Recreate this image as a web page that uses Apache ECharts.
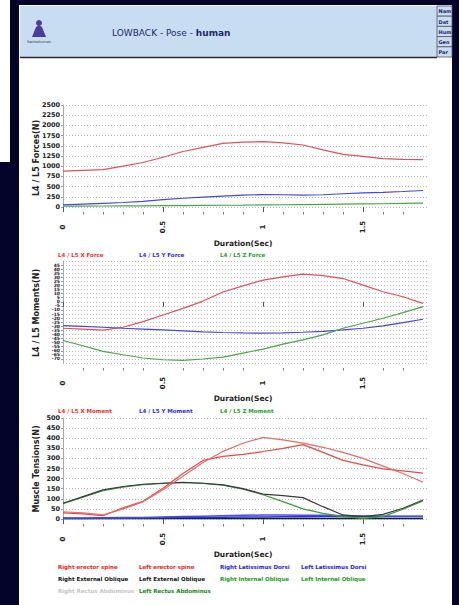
<!DOCTYPE html>
<html>
<head>
<meta charset="utf-8">
<script src="https://cdn.jsdelivr.net/npm/echarts@6/dist/echarts.min.js"></script>
<style>html,body{margin:0;padding:0;background:#04042a;}#c{width:459px;height:605px;}</style>
</head>
<body>
<div id="c"></div>
<script>
// ---- data ----
const time = [0, 0.1, 0.2, 0.3, 0.4, 0.5, 0.6, 0.7, 0.8, 0.9, 1.0, 1.1, 1.2, 1.3, 1.4, 1.5, 1.6, 1.7, 1.8];
const majorTicks = [0, 0.5, 1, 1.5];
const minorTicks = [0.1, 0.2, 0.3, 0.4, 0.6, 0.7, 0.8, 0.9, 1.1, 1.2, 1.3, 1.4, 1.6, 1.7];

const forceX = [880, 900, 915, 1000, 1090, 1220, 1360, 1460, 1560, 1590, 1600, 1570, 1520, 1400, 1290, 1240, 1185, 1165, 1160];
const forceY = [50, 70, 90, 110, 140, 180, 215, 240, 265, 290, 305, 300, 290, 300, 325, 345, 360, 380, 405];
const forceZ = [20, 22, 25, 28, 30, 33, 36, 40, 43, 46, 50, 55, 60, 65, 70, 75, 80, 88, 95];

const momentX = [-32.4, -33.6, -34.8, -31.2, -24.3, -16.2, -8.0, 0.9, 12.0, 19.5, 26.5, 30.5, 33.8, 32.1, 28.5, 20.4, 12.3, 6.2, -1.9];
const momentY = [-29.1, -30.0, -31.2, -32.4, -33.4, -34.4, -35.6, -36.8, -37.6, -38.1, -38.5, -38.0, -37.3, -36.2, -34.4, -32.4, -29.5, -25.5, -21.4];
const momentZ = [-47.4, -53.9, -60.8, -64.9, -68.9, -71.0, -71.8, -70.1, -67.7, -62.8, -58.0, -51.9, -46.6, -40.5, -32.4, -26.3, -20.2, -13.3, -6.0];

const rightErector = [36, 30, 20, 50, 85, 145, 212, 280, 335, 375, 404, 392, 376, 355, 330, 300, 262, 225, 182];
const leftErector = [30, 25, 17, 55, 88, 152, 225, 290, 310, 320, 334, 350, 368, 330, 290, 268, 248, 238, 227];
const rightLatDorsi = [5, 5, 6, 7, 8, 10, 12, 14, 16, 18, 20, 20, 19, 18, 16, 15, 14, 14, 13];
const leftLatDorsi = [3, 3, 4, 4, 5, 6, 7, 8, 9, 10, 10, 11, 11, 12, 12, 12, 12, 12, 12];
const rightExtOblique = [78, 111, 144, 161, 172, 177, 182, 177, 169, 150, 123, 116, 106, 61, 20, 12, 23, 53, 94];
const leftExtOblique = [3, 3, 3, 3, 3, 3, 3, 3, 3, 3, 3, 3, 3, 3, 3, 3, 3, 3, 3];
const rightIntOblique = [76, 108, 140, 158, 170, 176, 180, 176, 168, 148, 120, 86, 50, 28, 12, 3, 12, 48, 89];
const leftIntOblique = [2, 2, 2, 2, 2, 2, 2, 2, 2, 2, 2, 2, 2, 2, 2, 2, 2, 2, 2];
const rightRectus = [0, 0, 0, 0, 0, 0, 0, 0, 0, 0, 0, 0, 0, 0, 0, 0, 0, 0, 0];
const leftRectus = [1, 1, 1, 1, 1, 1, 1, 1, 1, 1, 1, 1, 1, 1, 1, 1, 1, 1, 1];

const forceTicks = { min: 0, max: 2500, interval: 250 };
const momentTicks = { min: -75, max: 50, interval: 5 };
const tensionTicks = { min: 0, max: 500, interval: 50 };

const forceLegend = ['L4 / L5 X Force', 'L4 / L5 Y Force', 'L4 / L5 Z Force'];
const momentLegend = ['L4 / L5 X Moment', 'L4 / L5 Y Moment', 'L4 / L5 Z Moment'];
const muscleNames = ['Right erector spine', 'Left erector spine', 'Right Latissimus Dorsi', 'Left Latissimus Dorsi',
  'Right External Oblique', 'Left External Oblique', 'Right Internal Oblique', 'Left Internal Oblique',
  'Right Rectus Abdominus', 'Left Rectus Abdominus'];
const boxLabels = ['Nam', 'Dat', 'Hum', 'Gen', 'Par'];

// ---- build ----
const FONT = 'DejaVu Sans';
const RED = '#e2505c', BLUE = '#4747d6', GREEN = '#4aa64a';
const gridTops = [105, 261, 418];
const gridHeights = [102, 102, 101];

const grids = gridTops.map((t, i) => ({ left: 63, top: t, width: 365, height: gridHeights[i], outerBoundsMode: 'none', containLabel: false }));

const xAxes = [];
[0, 1, 2].forEach(i => {
  xAxes.push({
    type: 'value', gridIndex: i, min: 0, max: 1.825, position: 'bottom', offset: 4,
    axisLine: { show: true, lineStyle: { color: 'rgba(0,0,0,0)' } },
    axisTick: { show: true, customValues: majorTicks, length: 5, lineStyle: { color: '#555', width: 1 } },
    axisLabel: { customValues: majorTicks, rotate: 90, margin: 16, align: 'center', verticalAlign: 'middle',
      fontSize: 7, fontWeight: 'bold', color: '#222', fontFamily: FONT, formatter: v => String(v) },
    splitLine: { show: false }
  });
  xAxes.push({
    type: 'value', gridIndex: i, min: 0, max: 1.825, position: 'bottom', offset: 5,
    axisLine: { show: true, lineStyle: { color: 'rgba(0,0,0,0)' } },
    axisTick: { show: true, customValues: minorTicks, length: 2.5, lineStyle: { color: '#777', width: 1 } },
    axisLabel: { show: false },
    splitLine: { show: false }
  });
});

function yAx(i, t, fs) {
  return {
    type: 'value', gridIndex: i, min: t.min, max: t.max, interval: t.interval,
    axisLine: { show: true, lineStyle: { color: '#aaa', width: 1 } },
    axisTick: { show: true, length: 2, lineStyle: { color: '#999' } },
    axisLabel: { fontSize: fs, color: '#222', margin: 3, fontFamily: FONT, fontWeight: 'bold', formatter: v => String(v) },
    splitLine: { show: true, lineStyle: { color: '#b8b8b8', type: [1, 2], width: 1 } }
  };
}
const yAxes = [yAx(0, forceTicks, 6.5), yAx(1, momentTicks, 4.5), yAx(2, tensionTicks, 6.5)];

function ser(name, arr, gi, color, w) {
  return {
    name, type: 'line', xAxisIndex: gi * 2, yAxisIndex: gi, showSymbol: false, symbol: 'none',
    data: time.map((t, k) => [t, arr[k]]),
    lineStyle: { color, width: w || 1.2 }, itemStyle: { color }, silent: true
  };
}

const series = [
  ser(forceLegend[0], forceX, 0, RED), ser(forceLegend[1], forceY, 0, BLUE), ser(forceLegend[2], forceZ, 0, GREEN),
  ser(momentLegend[0], momentX, 1, RED), ser(momentLegend[1], momentY, 1, BLUE), ser(momentLegend[2], momentZ, 1, GREEN),
  ser(muscleNames[8], rightRectus, 2, '#c8c8c8'),
  ser(muscleNames[9], leftRectus, 2, '#1f7a1f'),
  ser(muscleNames[7], leftIntOblique, 2, '#33a033'),
  ser(muscleNames[5], leftExtOblique, 2, '#1a1a40'),
  ser(muscleNames[3], leftLatDorsi, 2, '#3030e0', 1.5),
  ser(muscleNames[2], rightLatDorsi, 2, '#4a4ae8', 1.5),
  ser(muscleNames[6], rightIntOblique, 2, '#3c9c3c'),
  ser(muscleNames[4], rightExtOblique, 2, '#3a3a3a'),
  ser(muscleNames[1], leftErector, 2, '#e84a4a'),
  ser(muscleNames[0], rightErector, 2, '#e86a6a')
];

const g = [];
// page backgrounds
g.push({ type: 'rect', z: -10, shape: { x: 19, y: 5, width: 433, height: 600 }, style: { fill: '#ffffff' } });
g.push({ type: 'rect', z: -10, shape: { x: 0, y: 0, width: 10, height: 162 }, style: { fill: '#ffffff' } });
g.push({ type: 'rect', z: -9, shape: { x: 20, y: 6, width: 417, height: 51 }, style: { fill: '#c9ddf2' } });
g.push({ type: 'line', z: -8, shape: { x1: 20, y1: 57.5, x2: 437, y2: 57.5 }, style: { stroke: '#2a2a2a', lineWidth: 1.6 } });
// right info boxes
boxLabels.forEach((s, k) => {
  g.push({ type: 'rect', z: -8, shape: { x: 437, y: 6 + k * 10.2, width: 15, height: 10.2 }, style: { fill: '#c9ddf2', stroke: '#555', lineWidth: 0.8 } });
  g.push({ type: 'text', z: 20, x: 438.5, y: 11.3 + k * 10.2, style: { text: s, fontSize: 5, fontWeight: 'bold', fill: '#1c2a6b', fontFamily: FONT, verticalAlign: 'middle' } });
});
g.push({ type: 'rect', z: -9, shape: { x: 452, y: 0, width: 7, height: 605 }, style: { fill: '#04042a' } });
// logo
g.push({ type: 'circle', z: 10, shape: { cx: 39, cy: 23, r: 3 }, style: { fill: '#4a3c9c' } });
g.push({ type: 'polygon', z: 10, shape: { points: [[32, 37], [46, 37], [42, 27], [39, 25], [36, 27]] }, style: { fill: '#4a3c9c' } });
g.push({ type: 'text', z: 10, x: 39, y: 40, style: { text: 'Santoshuman', fontSize: 3.5, fill: '#334', align: 'center', fontFamily: FONT } });
// title
g.push({ type: 'text', z: 10, x: 112, y: 33, style: { text: 'LOWBACK - Pose - {b|human}', fontSize: 9, fill: '#1c2a6b', fontFamily: FONT, verticalAlign: 'middle',
  rich: { b: { fontWeight: 'bold', fontSize: 9, fill: '#1c2a6b', fontFamily: FONT } } } });
// axis names
const yNames = [['L4 / L5 Forces(N)', 158], ['L4 / L5 Moments(N)', 313], ['Muscle Tensions(N)', 469]];
yNames.forEach(([s, y]) => g.push({ type: 'text', z: 10, x: 36, y, rotation: Math.PI / 2,
  style: { text: s, fontSize: 8, fontWeight: 'bold', fill: '#222', fontFamily: FONT, align: 'center', verticalAlign: 'middle' } }));
[243, 398, 554].forEach(y => g.push({ type: 'text', z: 10, x: 243, y,
  style: { text: 'Duration(Sec)', fontSize: 7.5, fontWeight: 'bold', fill: '#222', fontFamily: FONT, align: 'center', verticalAlign: 'middle' } }));
// legends
const legCols = [58, 139, 220, 301];
function leg(s, x, y, color) {
  g.push({ type: 'text', z: 10, x, y, style: { text: s, fontSize: 5.5, fontWeight: 'bold', fill: color, fontFamily: FONT, verticalAlign: 'middle' } });
}
const legColors = ['#ff2a2a', '#2a2aff', '#1fa01f'];
forceLegend.forEach((s, k) => leg(s, legCols[k], 255, legColors[k]));
momentLegend.forEach((s, k) => leg(s, legCols[k], 411, legColors[k]));
const muscleColors = ['#ff1a1a', '#ff1a1a', '#1a1aff', '#1a1aff', '#111111', '#111111', '#1a9a1a', '#1a9a1a', '#c4c4c4', '#158a15'];
const muscleRows = [567, 579, 591];
muscleNames.forEach((s, k) => leg(s, legCols[k % 4], muscleRows[Math.floor(k / 4)], muscleColors[k]));

const chart = echarts.init(document.getElementById('c'), null, { renderer: 'svg' });
chart.setOption({
  backgroundColor: '#04042a',
  animation: false,
  grid: grids,
  xAxis: xAxes,
  yAxis: yAxes,
  series,
  graphic: { elements: g }
});
</script>
</body>
</html>
